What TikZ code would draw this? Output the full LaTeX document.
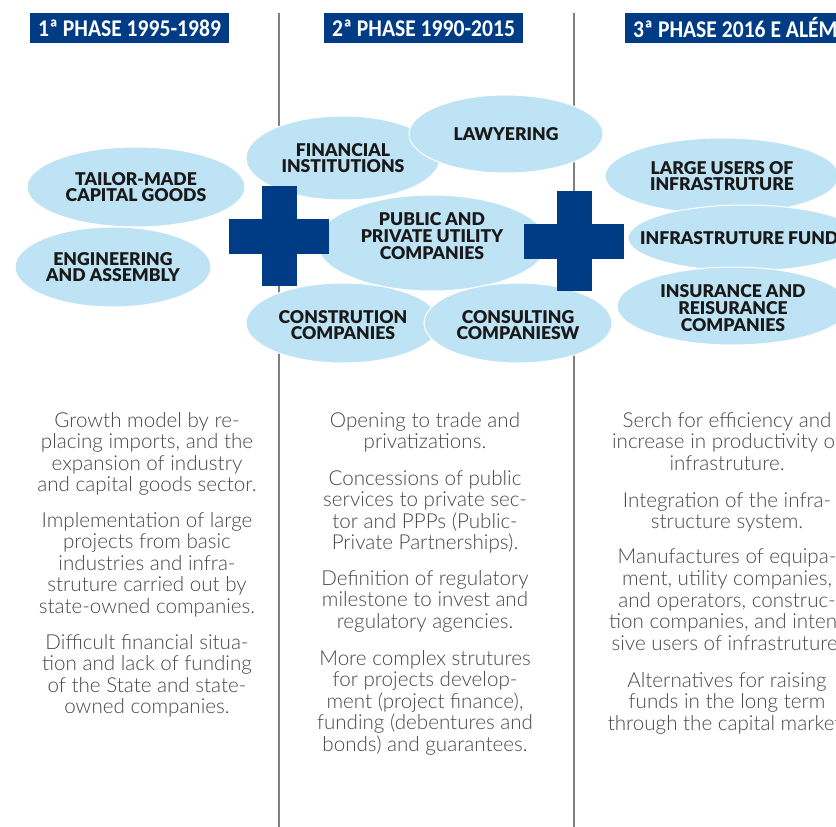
\documentclass[tikz,border=0pt]{standalone}
\usepackage{fontspec}
\setmainfont{Lato}
\newfontfamily\titrefont{Carlito Bold}[FakeStretch=0.9]
\newfontfamily\grasfont{Lato Black}
\newfontfamily\legerfont{Lato Light}
\usetikzlibrary{shapes.geometric,fadings}
\definecolor{bleufonce}{HTML}{003C85}
\definecolor{bleuclair}{HTML}{BEE3F5}
\definecolor{fond}{HTML}{CDE6F7}
\definecolor{gristexte}{HTML}{474747}
\definecolor{trait}{HTML}{808080}
\tikzstyle{titre} = [fill=bleufonce,text=white,font=\titrefont\fontsize{24}{24}\selectfont,inner xsep=8pt,inner ysep=0pt,minimum height=30pt]
\tikzstyle{bulle} = [fill=bleuclair,draw=white,line width=1pt]
\tikzstyle{etiquette} = [align=center,inner sep=0pt,text=black!90,font=\grasfont\fontsize{17.6}{16.7}\selectfont]
\tikzstyle{texte} = [align=center,inner sep=0pt,anchor=north,text=gristexte,font=\legerfont\fontsize{20.6}{21.6}\selectfont]
\tikzstyle{croix} = [fill=bleufonce]
\tikzstyle{separation} = [draw=trait,line width=1.5pt]

\begin{document}
\begin{tikzpicture}[x=1pt,y=-1pt]
	\clip (0,0) rectangle (836,827);
	\fill[white] (0,0) rectangle (836,827);
	\shade[top color=white,middle color=fond,bottom color=white] (0,70) rectangle (836,670);
	\fill[white,fill opacity=0.7,path fading=east] (0,300) rectangle (140,680);

	\draw[separation] (279,13) -- (279,827);
	\draw[separation] (574,13) -- (574,827);

	\node[titre] (phase1) at (129.5,28) {1ª PHASE 1995-1989};
	\node[titre] (phase2) at (423.5,28) {2ª PHASE 1990-2015};
	\node[titre,anchor=west] (phase3) at (625,28) {3ª PHASE 2016 E ALÉM};

	% phase 1
	\draw[bulle] (136,187) ellipse (109 and 40);
	\node[etiquette] (tailor) at (136,187) {TAILOR-MADE\\CAPITAL GOODS};
	\draw[bulle] (113,267) ellipse (98 and 40);
	\node[etiquette] (engin) at (113,267) {ENGINEERING\\AND ASSEMBLY};

	% phase 2
	\draw[bulle] (343,158) ellipse (97 and 42);
	\node[etiquette] (financ) at (343,158) {FINANCIAL\\INSTITUTIONS};
	\draw[bulle] (506,134) ellipse (97 and 39);
	\node[etiquette] (lawyer) at (506,134) {LAWYERING};
	\draw[bulle] (432,243) ellipse (115 and 48);
	\node[etiquette] (public) at (432,236) {PUBLIC AND\\PRIVATE UTILITY\\COMPANIES};
	\draw[bulle] (343,323) ellipse (97 and 40);
	\node[etiquette] (constr) at (343,325) {CONSTRUTION\\COMPANIES};
	\draw[bulle] (518,323) ellipse (94 and 40);
	\node[etiquette] (consult) at (518,325) {CONSULTING\\COMPANIESW};

	% phase 3
	\draw[bulle] (722,176) ellipse (117 and 38);
	\node[etiquette] (users) at (722,176) {LARGE USERS OF\\INFRASTRUTURE};
	\draw[bulle] (745,238) ellipse (117 and 33);
	\node[etiquette,anchor=west] (fund) at (640,238) {INFRASTRUTURE FUND};
	\draw[bulle] (733,306) ellipse (116 and 39);
	\node[etiquette] (insur) at (733,308) {INSURANCE AND\\REISURANCE\\COMPANIES};

	\foreach \cx/\cy in {279/236,574/241} {
		\fill[croix] (\cx-17.5,\cy-50) rectangle (\cx+17.5,\cy+50);
		\fill[croix] (\cx-50,\cy-17.5) rectangle (\cx+50,\cy+17.5);
	}

	% textes
	\node[texte] (g1) at (147,412) {Growth model by re-\\placing imports, and the\\expansion of industry\\and capital goods sector.};
	\node[texte] (g2) at (147,512) {Implementation of large\\projects from basic\\industries and infra-\\struture carried out by\\state-owned companies.};
	\node[texte] (g3) at (147,634) {Difficult financial situa-\\tion and lack of funding\\of the State and state-\\owned companies.};

	\node[texte] (o1) at (425,412) {Opening to trade and\\privatizations.};
	\node[texte] (o2) at (425,470) {Concessions of public\\services to private sec-\\tor and PPPs (Public-\\Private Partnerships).};
	\node[texte] (o3) at (425,570) {Definition of regulatory\\milestone to invest and\\regulatory agencies.};
	\node[texte] (o4) at (425,650) {More complex strutures\\for projects develop-\\ment (project finance),\\funding (debentures and\\bonds) and guarantees.};

	\node[texte] (s1) at (727,412) {Serch for efficiency and\\increase in productivity of\\infrastruture.};
	\node[texte] (s2) at (727,492) {Integration of the infra-\\structure system.};
	\node[texte] (s3) at (727,549) {Manufactures of equipa-\\ment, utility companies,\\and operators, construc-\\tion companies, and inten-\\sive users of infrastruture.};
	\node[texte] (s4) at (727,672) {Alternatives for raising\\funds in the long term\\through the capital market.};
\end{tikzpicture}
\end{document}
